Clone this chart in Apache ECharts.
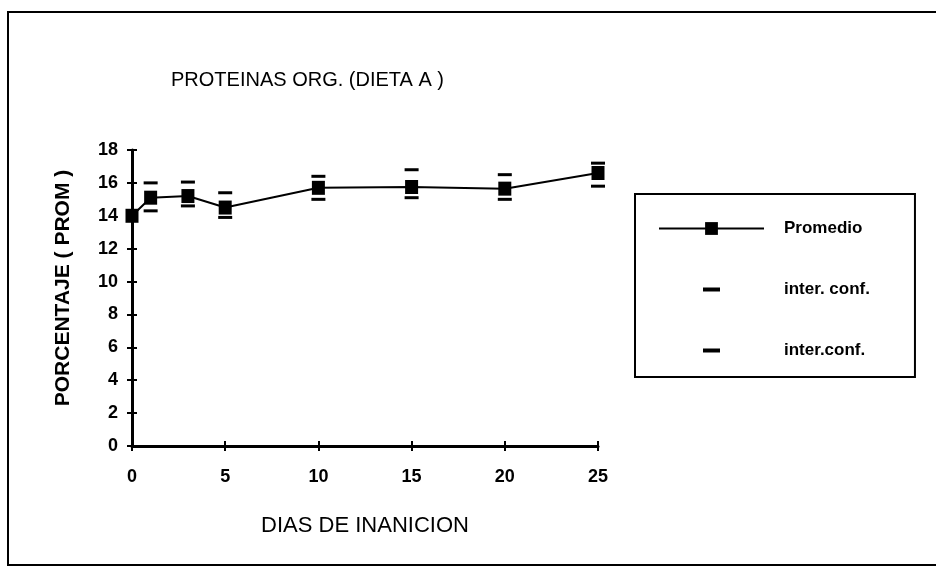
<!DOCTYPE html>
<html>
<head>
<meta charset="utf-8">
<script src="https://cdn.jsdelivr.net/npm/echarts@6/dist/echarts.min.js"></script>
<style>
  html, body { margin: 0; padding: 0; background: #fff; }
  #chart { width: 936px; height: 567px; }
</style>
</head>
<body>
<div id="chart"></div>
<script>
// dias de inanicion y valores
var dias = [0, 1, 3, 5, 10, 15, 20, 25];
var promedio = [14.0, 15.1, 15.2, 14.5, 15.7, 15.75, 15.65, 16.6];
var confSup = [null, 16.0, 16.05, 15.4, 16.4, 16.8, 16.5, 17.2];
var confInf = [null, 14.3, 14.6, 13.9, 15.0, 15.1, 15.0, 15.8];

function pares(vals) {
  var out = [];
  for (var i = 0; i < dias.length; i++) {
    if (vals[i] != null) out.push([dias[i], vals[i]]);
  }
  return out;
}

var font = "'Liberation Sans', Arial, sans-serif";
var dash = 'path://M0,0M105,16M44,6H61V10H44Z';
var gridPos = { left: 132, right: 338, top: 150, bottom: 121 };

var myChart = echarts.init(document.getElementById('chart'));
var option = {
  animation: false,
  backgroundColor: '#fff',
  title: {
    text: 'PROTEINAS ORG. (DIETA A )',
    left: 166,
    top: 65,
    textStyle: { fontFamily: font, fontSize: 20, fontWeight: 'normal', color: '#000' }
  },
  graphic: [{
    type: 'rect',
    shape: { x: 8, y: 12, width: 940, height: 553 },
    style: { fill: 'none', stroke: '#000', lineWidth: 2 },
    silent: true
  }],
  legend: {
    orient: 'vertical',
    left: 635,
    top: 194,
    padding: [26, 45, 18, 23],
    itemWidth: 105,
    itemHeight: 16,
    itemGap: 44,
    borderColor: '#000',
    borderWidth: 2,
    selectedMode: false,
    textStyle: { fontFamily: font, fontSize: 17, fontWeight: 'bold', color: '#000', padding: [0, 0, 0, 15] },
    data: [
      { name: 'Promedio' },
      { name: 'inter. conf.', icon: dash },
      { name: 'inter.conf.', icon: dash }
    ]
  },
  grid: [
    Object.assign({}, gridPos),
    Object.assign({}, gridPos)
  ],
  xAxis: [{
    type: 'value',
    gridIndex: 0,
    min: 0, max: 25, interval: 5,
    name: 'DIAS DE INANICION',
    nameLocation: 'middle',
    nameGap: 69,
    nameTextStyle: { fontFamily: font, fontSize: 22, color: '#000' },
    axisLine: { lineStyle: { color: '#000', width: 3 } },
    axisTick: { length: 5, lineStyle: { color: '#000', width: 2 } },
    axisLabel: { margin: 22, fontFamily: font, fontSize: 18, fontWeight: 'bold', color: '#000' },
    splitLine: { show: false }
  }, {
    type: 'value',
    gridIndex: 1,
    min: 0, max: 25, interval: 5,
    axisLine: { show: false },
    axisTick: { inside: true, length: 5, lineStyle: { color: '#000', width: 2 } },
    axisLabel: { show: false },
    splitLine: { show: false }
  }],
  yAxis: [{
    type: 'value',
    gridIndex: 0,
    min: 0, max: 18, interval: 2,
    name: 'PORCENTAJE ( PROM )',
    nameLocation: 'middle',
    nameGap: 58,
    nameTextStyle: { fontFamily: font, fontSize: 21, fontWeight: 'bold', color: '#000', padding: [0, 0, 0, 20] },
    axisLine: { show: true, lineStyle: { color: '#000', width: 3 } },
    axisTick: { show: true, length: 5, lineStyle: { color: '#000', width: 2 } },
    axisLabel: { margin: 14, fontFamily: font, fontSize: 18, fontWeight: 'bold', color: '#000' },
    splitLine: { show: false }
  }, {
    type: 'value',
    gridIndex: 1,
    min: 0, max: 18, interval: 2,
    axisLine: { show: false },
    axisTick: { show: true, inside: true, length: 5, lineStyle: { color: '#000', width: 2 } },
    axisLabel: { show: false },
    splitLine: { show: false }
  }],
  series: [{
    name: 'Promedio',
    type: 'line',
    xAxisIndex: 0,
    yAxisIndex: 0,
    data: pares(promedio),
    symbol: 'rect',
    symbolSize: [13, 14],
    showAllSymbol: true,
    itemStyle: { color: '#000' },
    lineStyle: { color: '#000', width: 2 },
    z: 3
  }, {
    name: 'inter. conf.',
    type: 'scatter',
    xAxisIndex: 0,
    yAxisIndex: 0,
    data: pares(confSup),
    symbol: 'rect',
    symbolSize: [14, 3],
    itemStyle: { color: '#000', opacity: 1 }
  }, {
    name: 'inter.conf.',
    type: 'scatter',
    xAxisIndex: 0,
    yAxisIndex: 0,
    data: pares(confInf),
    symbol: 'rect',
    symbolSize: [14, 3],
    itemStyle: { color: '#000', opacity: 1 }
  }]
};
myChart.setOption(option);
</script>
</body>
</html>
